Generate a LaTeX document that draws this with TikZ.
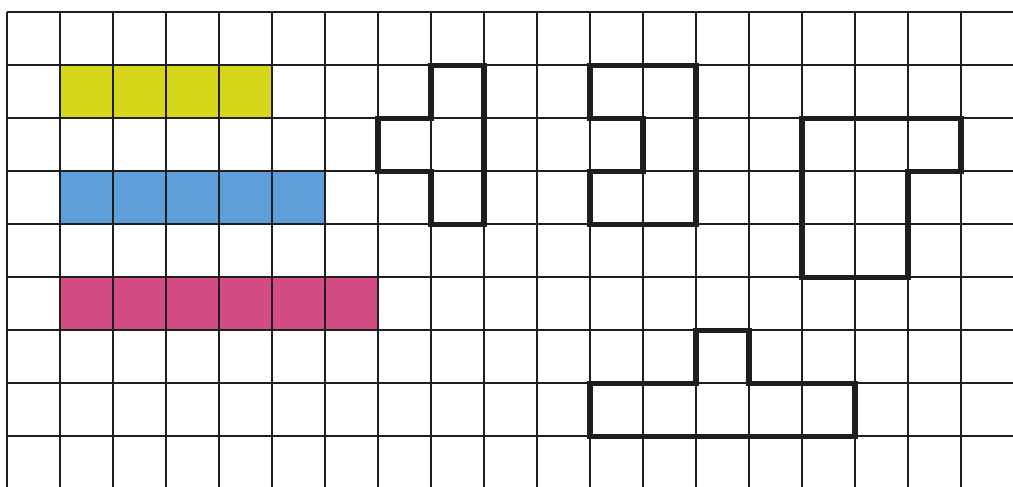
\documentclass[tikz,border=0pt]{standalone}
\usepackage{xcolor}
\usetikzlibrary{positioning}
\definecolor{Ink}{HTML}{1E1E1E}
\definecolor{Lemon}{HTML}{D6D61A}
\definecolor{Sky}{HTML}{5E9EDA}
\definecolor{Rose}{HTML}{D24B82}

\begin{document}
\begin{tikzpicture}[x=1cm,y=-1cm]
  \clip (-0.13,-0.23) rectangle (18.98,8.94);
  \fill[white] (-0.13,-0.23) rectangle (18.98,8.94);
  % coloured strips
  \fill[Lemon] (1,1) rectangle (5,2);
  \fill[Sky] (1,3) rectangle (6,4);
  \fill[Rose] (1,5) rectangle (7,6);
  % grid
  \foreach \i in {0,...,19}
    \draw[Ink,line width=1.1pt] (\i,0) -- (\i,9.5);
  \foreach \j in {0,...,9}
    \draw[Ink,line width=1.1pt] (0,\j) -- (19.5,\j);
  % outlined figures
  \draw[Ink,line width=2.8pt,line join=miter] (8,1) -- (9,1) -- (9,4) -- (8,4) -- (8,3) -- (7,3) -- (7,2) -- (8,2) -- cycle;
  \draw[Ink,line width=2.8pt,line join=miter] (11,1) -- (13,1) -- (13,4) -- (11,4) -- (11,3) -- (12,3) -- (12,2) -- (11,2) -- cycle;
  \draw[Ink,line width=2.8pt,line join=miter] (15,2) -- (18,2) -- (18,3) -- (17,3) -- (17,5) -- (15,5) -- cycle;
  \draw[Ink,line width=2.8pt,line join=miter] (11,7) -- (13,7) -- (13,6) -- (14,6) -- (14,7) -- (16,7) -- (16,8) -- (11,8) -- cycle;
\end{tikzpicture}
\end{document}
